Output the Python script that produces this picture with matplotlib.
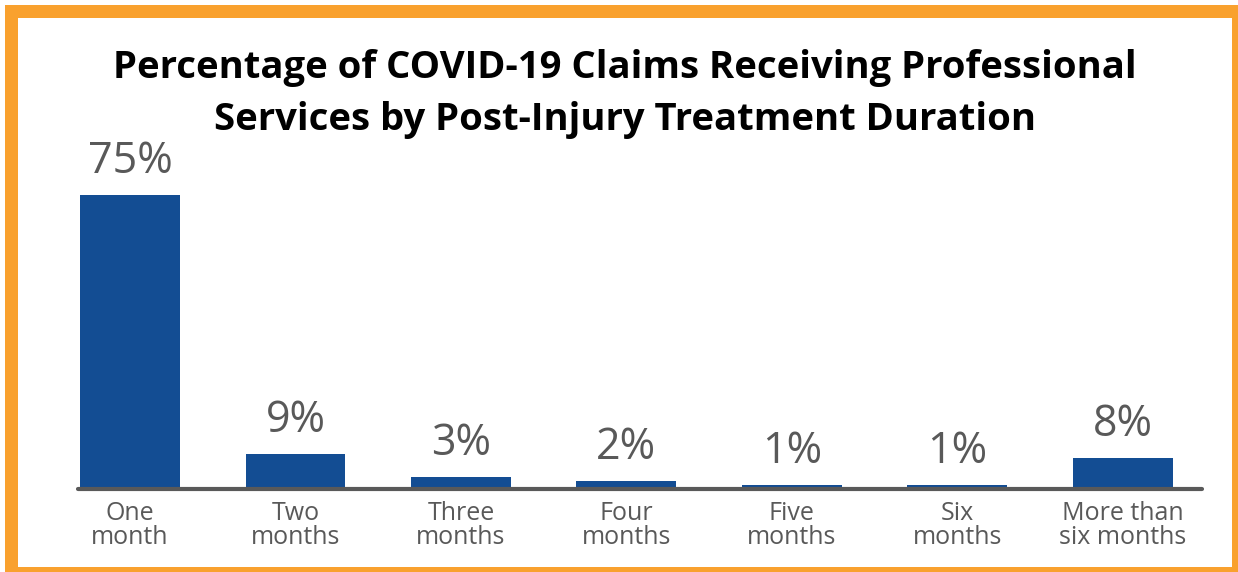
import matplotlib.pyplot as plt
from matplotlib.patches import Rectangle

categories = ['One\nmonth', 'Two\nmonths', 'Three\nmonths', 'Four\nmonths',
              'Five\nmonths', 'Six\nmonths', 'More than\nsix months']
values = [75, 9, 3, 2, 1, 1, 8]
value_labels = ['75%', '9%', '3%', '2%', '1%', '1%', '8%']

plt.rcParams['font.family'] = ['Open Sans', 'DejaVu Sans']

fig = plt.figure(figsize=(12.38, 5.72), dpi=100)

# orange frame
fig.patches.append(Rectangle((5/1238, 0), 1 - 5/1238, 1 - 5/572,
                             transform=fig.transFigure, facecolor='#F9A12E',
                             edgecolor='none', zorder=0))
fig.patches.append(Rectangle((18/1238, 5/572), (1232-18)/1238, (554-5)/572,
                             transform=fig.transFigure, facecolor='white',
                             edgecolor='none', zorder=0))

ax = fig.add_axes([78/1238, 83/572, 1124/1238, 339/572])
ax.set_zorder(2)
ax.patch.set_alpha(0)
x = range(len(values))
ax.bar(x, values, width=0.604, color='#134D93', zorder=2)
for i, v in enumerate(values):
    ax.text(i, v + 2.8, value_labels[i], ha='center', va='bottom',
            fontsize=31, color='#595959')

ax.set_xlim(-0.315, 6.48)
ax.set_ylim(0, 86.5)
ax.set_xticks(list(x))
ax.set_xticklabels(categories, fontsize=18, color='#595959', linespacing=0.92)
ax.tick_params(axis='x', length=0, pad=9)
ax.set_yticks([])
for s in ['top', 'right', 'left']:
    ax.spines[s].set_visible(False)
ax.spines['bottom'].set_color('#595959')
ax.spines['bottom'].set_linewidth(3)
ax.spines['bottom'].set_capstyle('round')

fig.text(625/1238, 1 - 94/572,
         'Percentage of COVID-19 Claims Receiving Professional\nServices by Post-Injury Treatment Duration',
         ha='center', va='center', fontsize=27.5, fontweight='bold',
         color='black', linespacing=1.45, zorder=3)

fig.savefig('out.png', dpi=100)
